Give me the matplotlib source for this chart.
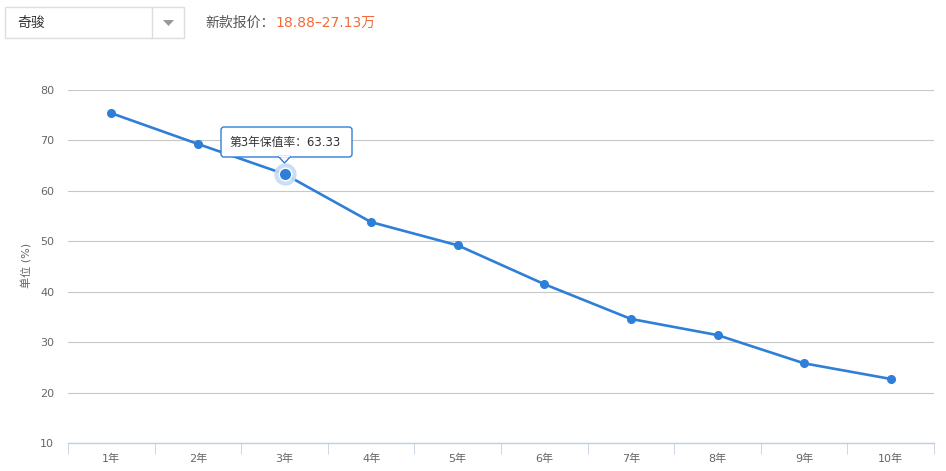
import numpy as np
import matplotlib
matplotlib.use("Agg")
import matplotlib.pyplot as plt
from matplotlib.patches import Rectangle, FancyBboxPatch, Polygon

plt.rcParams['font.family'] = ['DejaVu Sans', 'Noto Sans CJK SC']

years = ["1年", "2年", "3年", "4年", "5年", "6年", "7年", "8年", "9年", "10年"]
rates = [75.4, 69.3, 63.33, 53.8, 49.2, 41.5, 34.6, 31.4, 25.8, 22.7]
y_ticks = [10, 20, 30, 40, 50, 60, 70, 80]
highlight = 2

blue = "#2f7ed8"
grid_c = "#c8c8c8"
text_c = "#666666"

fig = plt.figure(figsize=(9.46, 4.71), dpi=100)
W, H = 946, 471
ax = fig.add_axes([68 / W, (H - 443) / H, 866 / W, 353 / H])

x = np.arange(len(years))
ax.plot(x, rates, color=blue, lw=1.9, marker="o", ms=5.5, zorder=3,
        solid_capstyle="round")
# hovered point
ax.plot(x[highlight], rates[highlight], "o", ms=15, color="#c6dcf5",
        zorder=4, alpha=0.9)
ax.plot(x[highlight], rates[highlight], "o", ms=9, color=blue,
        mec="white", mew=1, zorder=5)

ax.set_xlim(-0.5, len(years) - 0.5)
ax.set_ylim(10, 80)
ax.set_yticks(y_ticks)
ax.set_xticks(x)
ax.set_xticklabels(years)
ax.set_xticks(np.arange(-0.5, len(years), 1), minor=True)
ax.tick_params(axis="x", which="major", length=0, pad=8, labelsize=8,
               labelcolor=text_c)
ax.tick_params(axis="x", which="minor", length=8, color="#c0d0e0",
               direction="out")
ax.tick_params(axis="y", length=0, pad=10, labelsize=8, labelcolor=text_c)
ax.yaxis.grid(True, color=grid_c, lw=0.8)
ax.set_axisbelow(True)
for s in ["top", "right", "left"]:
    ax.spines[s].set_visible(False)
ax.spines["bottom"].set_color("#c0d0e0")
ax.spines["bottom"].set_linewidth(1)
fig.text(27 / W, (H - 265) / H, "单位 (%)", fontsize=8, color=text_c,
         rotation=90, ha="center", va="center")

# tooltip
px, py = ax.transData.transform((x[highlight], rates[highlight]))
bx0, by0, bw, bh = 221, H - 157, 131, 30
tip = FancyBboxPatch((bx0, by0), bw, bh, boxstyle="round,pad=0,rounding_size=3",
                     transform=None, fc="white", ec=blue, lw=1, zorder=6)
fig.patches.append(tip)
arrow = Polygon([(px - 6, by0 + 0.5), (px + 6, by0 + 0.5), (px, by0 - 6)],
                closed=True, transform=None, fc="white", ec=blue, lw=1,
                zorder=7)
fig.patches.append(arrow)
cover = Rectangle((px - 5.2, by0 - 0.2), 10.4, 1.6, transform=None,
                  fc="white", ec="none", zorder=8)
fig.patches.append(cover)
fig.text((bx0 + 8) / W, (by0 + bh / 2) / H, f"第3年保值率：{rates[highlight]:.2f}",
         fontsize=8.5, color="#333333", va="center", ha="left", zorder=9)

# header: dropdown + price
fig.patches.append(Rectangle((5, H - 38), 179, 31, transform=None,
                             fc="white", ec="#dddddd", lw=1))
fig.add_artist(plt.Line2D([152, 152], [H - 38, H - 7], transform=None,
                          color="#dddddd", lw=1))
fig.patches.append(Polygon([(163, H - 20), (174, H - 20), (168.5, H - 26)],
                           closed=True, transform=None, fc="#999999",
                           ec="none"))
fig.text(17 / W, (H - 23) / H, "奇骏", fontsize=10, color="#333333",
         va="center")
fig.text(205 / W, (H - 23) / H, "新款报价：", fontsize=10, color="#555555",
         va="center")
fig.text(275 / W, (H - 23) / H, "18.88–27.13万", fontsize=10,
         color="#f26b3a", va="center")

fig.savefig("out.png", dpi=100)
